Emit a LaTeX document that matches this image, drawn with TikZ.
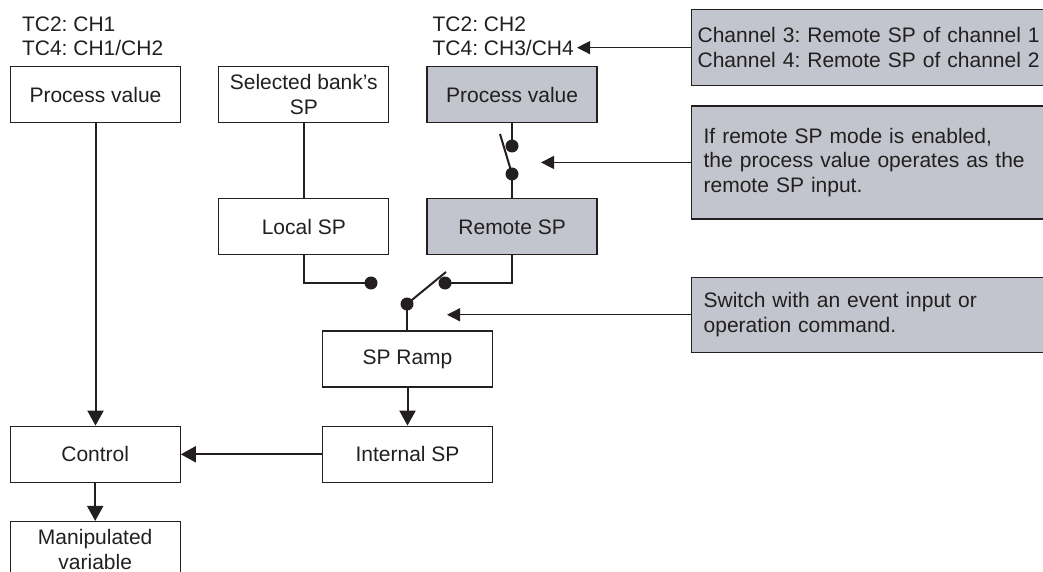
\documentclass[tikz,border=0pt]{standalone}
\usepackage{fontspec}
\setmainfont{Liberation Sans}
\usepackage{xcolor}
\usetikzlibrary{positioning, arrows.meta}
\definecolor{panel}{RGB}{194,197,205}
\definecolor{ink}{RGB}{35,31,32}
\frenchspacing

\begin{document}
\begin{tikzpicture}[
      x=1pt, y=-1pt,
      font=\fontsize{21}{24.5}\selectfont,
      every node/.style={text=ink},
      box/.style={draw=ink, line width=1.3pt, minimum width=170pt, minimum height=56pt, inner sep=2pt, align=center},
      remotebox/.style={box, fill=panel},
      note/.style={draw=ink, line width=1.3pt, fill=panel, align=left, text width=360pt, inner xsep=12pt},
      lbl/.style={align=left, inner sep=0pt, font=\fontsize{21}{23.5}\selectfont},
      wire/.style={draw=ink, line width=2pt},
      arr/.style={wire, -{Triangle[length=15pt, width=16pt]}},
      hint/.style={draw=ink, line width=1.3pt, -{Triangle[length=13pt, width=13pt]}}
    ]
    \useasboundingbox (0,0) rectangle (1043,572);

    % Nodes
    \node[box] (pvmain) at (95.5,94.5) {Process value};
    \node[box, right=37pt of pvmain] (bank) {Selected bank's\\SP};
    \node[remotebox, right=37pt of bank] (pvremote) {Process value};
    \node[box, below=75pt of bank] (local) {Local SP};
    \node[remotebox, below=75pt of pvremote] (remote) {Remote SP};
    \node[box] (ramp) at (407.5,359) {SP Ramp};
    \node[box, below=38pt of ramp] (internal) {Internal SP};
    \node[box, left=141pt of internal] (control) {Control};
    \node[box, below=38pt of control] (manip) {Manipulated\\variable};

    \node[lbl, above right=10pt and 12pt of pvmain.north west] (lblmain) {TC2: CH1\\TC4: CH1/CH2};
    \node[lbl, inner xsep=3pt, above right=10pt and 3pt of pvremote.north west] (lblremote) {TC2: CH2\\TC4: CH3/CH4};

    \node[note, anchor=north west, inner xsep=6pt, minimum height=76pt] (notech) at (691,9) {Channel 3: Remote SP of channel 1\\Channel 4: Remote SP of channel 2};
    \node[note, below right=19pt and 0pt of notech.south west, minimum height=113pt] (noteremote) {If remote SP mode is enabled,\\the process value operates as the\\remote SP input.};
    \node[note, below right=57pt and 0pt of noteremote.south west, minimum height=75pt] (noteswitch) {Switch with an event input or\\operation command.};

    % Switch points
    \coordinate (rin) at (512,146);
    \coordinate (rout) at (512,174);
    \coordinate (rblade) at (500,134);
    \coordinate (rctl) at (541,161);
    \coordinate (ldot) at (371,283);
    \coordinate (rdot) at (445,283);
    \coordinate (piv) at (407,304);
    \coordinate (blade) at (446,272);
    \coordinate (sctl) at (447,312);

    % Edges
    \draw[arr] (pvmain.south) -- (pvmain.south |- control.north);
    \draw[wire] (bank) -- (local);
    \draw[wire] (pvremote.south) -- (pvremote.south |- rin);
    \draw[wire] (rout) -- (rblade);
    \draw[wire] (rout) -- (rout |- remote.north);
    \draw[wire] (local.south) |- (ldot);
    \draw[wire] (remote.south) |- (rdot);
    \draw[wire] (piv) -- (blade);
    \draw[wire] (piv) -- (piv |- ramp.north);
    \draw[arr] (ramp) -- (internal);
    \draw[arr] (internal) -- (control);
    \draw[arr] (control) -- (manip);
    \foreach \p in {rin, rout, ldot, rdot, piv}
      \fill[ink] (\p) circle (6.5pt);

    \draw[hint] (notech.west) -- (notech.west -| lblremote.east);
    \draw[hint] (noteremote.west) -- (noteremote.west -| rctl);
    \draw[hint] (noteswitch.west) -- (noteswitch.west -| sctl);
  \end{tikzpicture}
\end{document}
